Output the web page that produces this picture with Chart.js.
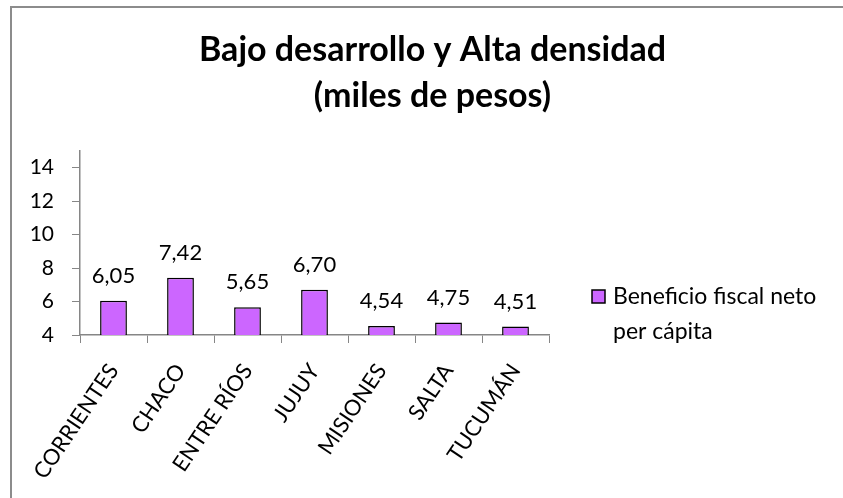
<!DOCTYPE html>
<html>
<head>
<meta charset="utf-8">
<script src="https://cdn.jsdelivr.net/npm/chart.js@4.4.1/dist/chart.umd.min.js"></script>
<style>
  body { margin: 0; background: #fff; }
  #wrap { width: 843px; height: 498px; }
</style>
</head>
<body>
<div id="wrap"><canvas id="myChart" width="843" height="498"></canvas></div>
<script>
// data
const provinces = ['CORRIENTES', 'CHACO', 'ENTRE RÍOS', 'JUJUY', 'MISIONES', 'SALTA', 'TUCUMÁN'];
const beneficio = [6.05, 7.42, 5.65, 6.70, 4.54, 4.75, 4.51];
const yTicks = [4, 6, 8, 10, 12, 14];
const seriesLabel = ['Beneficio fiscal neto', 'per cápita'];
const titleLines = ['Bajo desarrollo y Alta densidad', '(miles de pesos)'];

const FONT = 'Lato';
const BAR = '#cc66ff';
const AXIS = '#868686';

// white background + outer frame (only left/top edges are visible)
const framePlugin = {
  id: 'frame',
  beforeDraw(chart) {
    const ctx = chart.ctx;
    ctx.save();
    ctx.fillStyle = '#fff';
    ctx.fillRect(0, 0, chart.width, chart.height);
    ctx.strokeStyle = '#8c8c8c';
    ctx.lineWidth = 2;
    ctx.strokeRect(11, 7, 900, 600);
    ctx.restore();
  }
};

// value labels above each bar
const valueLabels = {
  id: 'valueLabels',
  afterDatasetsDraw(chart) {
    const ctx = chart.ctx;
    const meta = chart.getDatasetMeta(0);
    ctx.save();
    ctx.font = '22px ' + FONT;
    ctx.fillStyle = '#000';
    ctx.textAlign = 'center';
    ctx.textBaseline = 'middle';
    meta.data.forEach((bar, i) => {
      ctx.fillText(beneficio[i].toFixed(2).replace('.', ','), bar.x, bar.y - 25);
    });
    ctx.restore();
  }
};

// legend drawn by hand, two lines of text
const sideLegend = {
  id: 'sideLegend',
  afterDraw(chart) {
    const ctx = chart.ctx;
    const area = chart.chartArea;
    const x = area.right + 43;
    const y = 290;
    ctx.save();
    ctx.fillStyle = BAR;
    ctx.fillRect(x, y, 13, 13);
    ctx.strokeStyle = '#000';
    ctx.lineWidth = 1.5;
    ctx.strokeRect(x, y, 13, 13);
    ctx.fillStyle = '#000';
    ctx.font = '23px ' + FONT;
    ctx.textAlign = 'left';
    ctx.textBaseline = 'middle';
    seriesLabel.forEach((line, i) => {
      ctx.fillText(line, x + 21, y + 7 + i * 35);
    });
    ctx.restore();
  }
};

const ctx = document.getElementById('myChart').getContext('2d');
new Chart(ctx, {
  type: 'bar',
  data: {
    labels: provinces,
    datasets: [{
      label: seriesLabel.join(' '),
      data: beneficio,
      backgroundColor: BAR,
      borderColor: '#000',
      borderWidth: 1.5,
      borderSkipped: false,
      barPercentage: 0.4,
      categoryPercentage: 1.0,
    }],
  },
  options: {
    responsive: false,
    animation: false,
    layout: { padding: { left: 22, right: 0, top: 0, bottom: 0 } },
    plugins: {
      legend: { display: false },
      tooltip: { enabled: false },
      title: {
        display: true,
        text: titleLines,
        color: '#000',
        font: { family: FONT, size: 34, weight: 'bold', lineHeight: 1.35 },
        padding: { top: 27, bottom: 32 },
      },
    },
    scales: {
      x: {
        grid: { drawOnChartArea: false, drawTicks: true, tickLength: 8, color: AXIS, offset: true },
        border: { display: true, color: AXIS, width: 1.5 },
        ticks: {
          color: '#000',
          font: { family: FONT, size: 22 },
          minRotation: 56,
          maxRotation: 56,
          padding: 16,
        },
        afterFit(scale) { scale.height = 163; },
      },
      y: {
        min: 4,
        max: 15,
        grid: { drawOnChartArea: false, drawTicks: true, tickLength: 8, color: AXIS },
        border: { display: true, color: AXIS, width: 1.5 },
        ticks: { color: '#000', font: { family: FONT, size: 21 }, padding: 18 },
        afterBuildTicks(scale) { scale.ticks = yTicks.map(v => ({ value: v })); },
        afterFit(scale) { scale.width = 58; },
      },
      // empty axis that only reserves room for the legend on the right
      legendSpace: {
        type: 'linear',
        position: 'right',
        display: true,
        grid: { display: false },
        border: { display: false },
        ticks: { display: false },
        afterFit(scale) { scale.width = 294; },
      },
    },
  },
  plugins: [framePlugin, valueLabels, sideLegend],
});
</script>
</body>
</html>
